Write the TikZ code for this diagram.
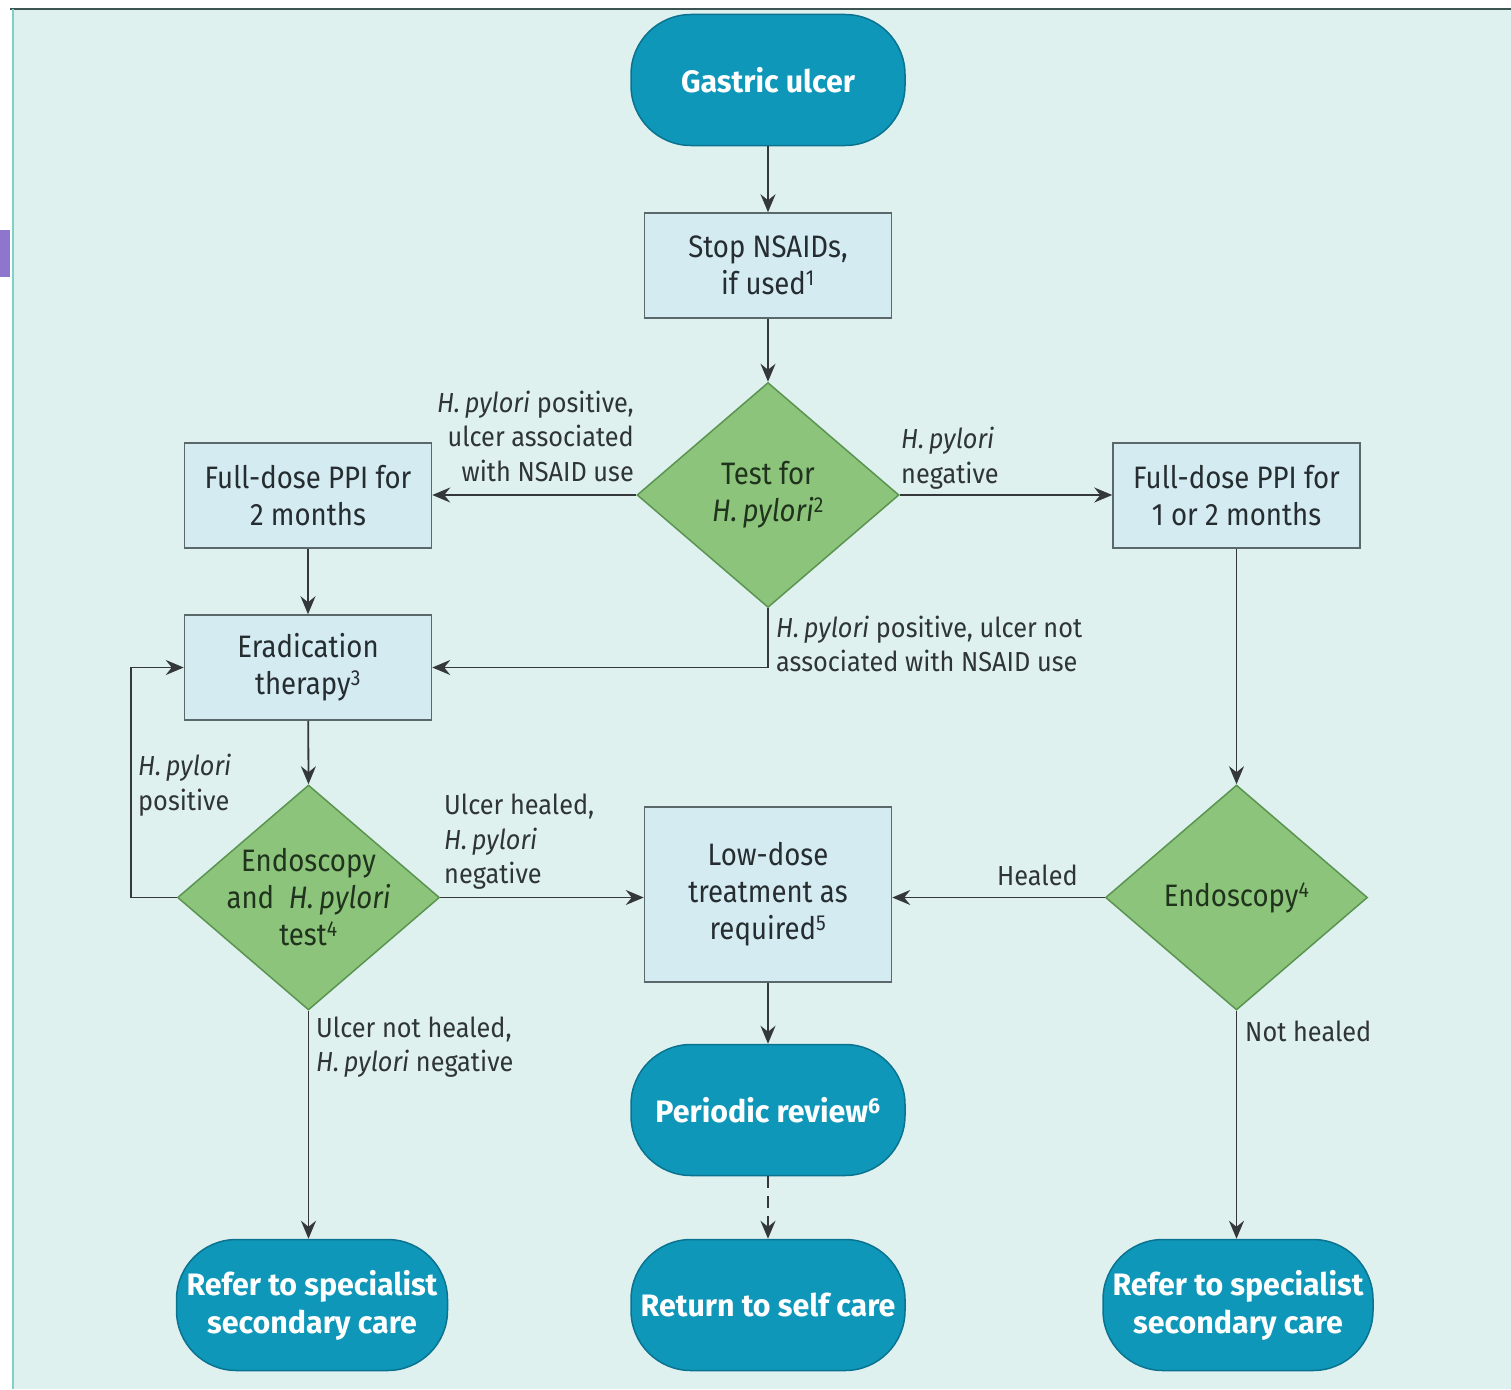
\documentclass[tikz,border=0pt]{standalone}
\usepackage{fontspec}
\setmainfont{Fira Sans}[FakeStretch=0.89]
\newfontfamily\pillfont{Fira Sans}[FakeStretch=0.98]
\newfontfamily\lblfont{Fira Sans}[FakeStretch=0.92]
\usetikzlibrary{arrows.meta,shapes.geometric}

\definecolor{bgc}{HTML}{DFF1EF}
\definecolor{framec}{HTML}{3D5552}
\definecolor{sidec}{HTML}{7FD0C7}
\definecolor{markc}{HTML}{8E76CF}
\definecolor{pillc}{HTML}{0E97B9}
\definecolor{pilledge}{HTML}{0B7390}
\definecolor{boxc}{HTML}{D4EBF1}
\definecolor{boxedge}{HTML}{5A686B}
\definecolor{diac}{HTML}{8DC47B}
\definecolor{diaedge}{HTML}{5A9451}
\definecolor{diatxt}{HTML}{1F331D}
\definecolor{txtc}{HTML}{252D31}
\definecolor{lblc}{HTML}{2F3437}
\definecolor{linec}{HTML}{35383A}

\tikzset{
  pill/.style={rectangle, rounded corners=60pt, fill=pillc, draw=pilledge,
    line width=1.5pt, minimum width=274pt, minimum height=131pt, inner sep=0pt,
    text=white, align=center, font=\pillfont\bfseries\fontsize{31}{38}\selectfont},
  box/.style={rectangle, fill=boxc, draw=boxedge, line width=1.5pt,
    minimum width=247pt, minimum height=105pt, inner sep=0pt, align=center,
    text=txtc, font=\fontsize{31}{37}\selectfont},
  dia/.style={diamond, fill=diac, draw=diaedge, line width=1.5pt,
    minimum width=262pt, minimum height=225pt, inner sep=0pt},
  diatext/.style={align=center, text=diatxt, inner sep=0pt,
    font=\fontsize{31}{37}\selectfont},
  lbl/.style={inner sep=0pt, text=lblc, font=\lblfont\fontsize{27.5}{34.5}\selectfont},
  flow/.style={draw=linec, line width=1.8pt,
    -{Stealth[length=18pt,width=15pt,inset=6pt]}},
}

\newcommand{\hp}{\textit{H.\,pylori}}

\begin{document}
\begin{tikzpicture}[x=1pt,y=-1pt]
\useasboundingbox (0,0) rectangle (1511,1389);
% page background and frame
\fill[bgc] (12,9) rectangle (1511,1389);
\draw[framec, line width=2.5pt] (10,9) -- (1511,9);
\draw[sidec, line width=2.5pt] (13,9) -- (13,1389);
\fill[markc] (0,230) rectangle (10,277);

% terminals
\node[pill] (gu)  at (768,80)    {Gastric ulcer};
\node[pill] (per) at (768,1110)  {Periodic review\textsuperscript{6}};
\node[pill] (ret) at (768,1305)  {Return to self care};
\node[pill, minimum width=271pt] (refl) at (312,1305) {Refer to specialist\\secondary care};
\node[pill, minimum width=270pt] (refr) at (1238,1305) {Refer to specialist\\secondary care};

% process boxes
\node[box] (stop) at (768,265.5) {Stop NSAIDs,\\if used\textsuperscript{1}};
\node[box] (ppi2) at (308,495.5) {Full-dose PPI for\\2 months};
\node[box] (ppi1) at (1236.5,495.5) {Full-dose PPI for\\1 or 2 months};
\node[box] (erad) at (308,667.5) {Eradication\\therapy\textsuperscript{3}};
\node[box, minimum height=175pt] (low) at (768,894.5) {Low-dose\\treatment as\\required\textsuperscript{5}};

% decisions
\node[dia] (test) at (768,495) {};
\node[diatext] at (test) {Test for\\\hp\textsuperscript{2}};
\node[dia] (endo) at (308.5,897.5) {};
\node[diatext] at (endo) {Endoscopy\\and \ \hp\\test\textsuperscript{4}};
\node[dia] (endr) at (1236.5,897.5) {};
\node[diatext] at (endr) {Endoscopy\textsuperscript{4}};

% connectors
\draw[flow] (gu) -- (stop);
\draw[flow] (stop) -- (test);
\draw[flow] (test.west) -- (test.west -| ppi2.east);
\draw[flow] (test.east) -- (test.east -| ppi1.west);
\draw[flow] (test.south) |- (erad.east);
\draw[flow] (ppi2) -- (erad);
\draw[flow] (erad) -- (endo.north);
\draw[flow] (endo.west) -- ++(-46,0) |- (erad.west);
\draw[flow] (endo.east) -- (endo.east -| low.west);
\draw[flow] (endo.south) -- (endo.south |- refl.north);
\draw[flow] (ppi1.south) -- (endr.north);
\draw[flow] (endr.west) -- (endr.west -| low.east);
\draw[flow] (endr.south) -- (endr.south |- refr.north);
\draw[flow] (low) -- (per);
\draw[flow, dash pattern=on 12pt off 8pt] (per) -- (ret);

% connector labels
\node[lbl, align=right, anchor=east] at (634,436) {\hp\ positive,\\ulcer associated\\with NSAID use};
\node[lbl, align=left, anchor=west] at (901,458) {\hp\\negative};
\node[lbl, align=left, anchor=west] at (776,644) {\hp\ positive, ulcer not\\associated with NSAID use};
\node[lbl, align=left, anchor=west] at (138,785) {\hp\\positive};
\node[lbl, align=left, anchor=west] at (444,842) {Ulcer healed,\\\hp\\negative};
\node[lbl, align=left, anchor=west] at (316,1047) {Ulcer not healed,\\\hp\ negative};
\node[lbl, anchor=west] at (997,875) {Healed};
\node[lbl, anchor=west] at (1245,1031) {Not healed};
\end{tikzpicture}
\end{document}
